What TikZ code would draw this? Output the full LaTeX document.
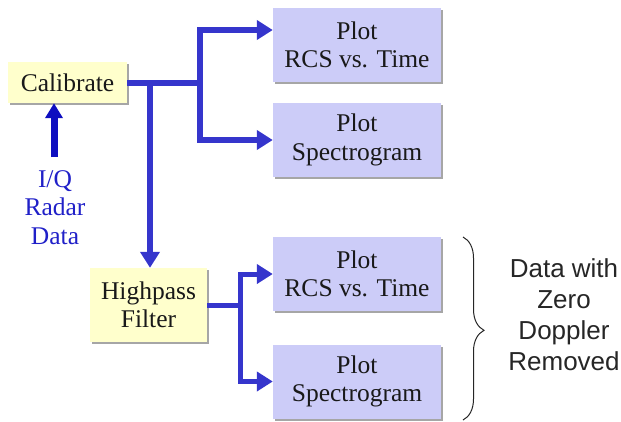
\documentclass[tikz,border=0pt]{standalone}
\usepackage{fontspec}
\setmainfont{Liberation Serif}
\newfontfamily\sansf{Liberation Sans}
\usetikzlibrary{arrows.meta,shadows,decorations.pathreplacing}
\definecolor{flowblue}{HTML}{3535CC}
\definecolor{inblue}{HTML}{0E0EC0}
\definecolor{procfill}{HTML}{FFFFCC}
\definecolor{plotfill}{HTML}{CCCCF8}
\definecolor{txtblue}{HTML}{2020C8}
\begin{document}
\begin{tikzpicture}[x=1pt,y=-1pt,
  every node/.style={font=\fontsize{25.5}{28.5}\selectfont, text=black!90, align=center, inner sep=0pt},
  boxshadow/.style={drop shadow={shadow xshift=2pt, shadow yshift=-2pt, fill=black!35, opacity=1}},
  procbox/.style={rectangle, fill=procfill, boxshadow},
  plotbox/.style={rectangle, fill=plotfill, boxshadow, minimum width=168pt, minimum height=74pt},
  flow/.style={draw=flowblue, line width=6pt, line join=miter},
  tipb/.style={-{Triangle[length=16pt,width=19pt]}},
  tipbb/.style={{Triangle[length=16pt,width=19pt]}-{Triangle[length=16pt,width=19pt]}}
]
\useasboundingbox (0,0) rectangle (621,421);

% processing boxes
\node[procbox, minimum width=119pt, minimum height=41pt] (cal) at (67.5,82.5) {Calibrate};
\node[procbox, minimum width=117pt, minimum height=74pt] (hp) at (148.5,305) {Highpass\\Filter};

% plot boxes
\node[plotbox] (rcsA)  at (357,45)    {Plot\\RCS vs. Time};
\node[plotbox] (specA) at (357,140)   {Plot\\Spectrogram};
\node[plotbox] (rcsB)  at (357,274)   {Plot\\RCS vs. Time};
\node[plotbox] (specB) at (357,381.5) {Plot\\Spectrogram};

% input label
\node[text=txtblue, anchor=north] (iq) at (55,170) {I/Q\\Radar\\Data};

% right-hand note
\node[font=\sansf\fontsize{26}{31}\selectfont, text=black!85] (note) at (564,315) {Data with\\Zero\\Doppler\\Removed};

% junctions
\coordinate (jA) at (200,82.5);
\coordinate (jD) at (150,82.5);
\coordinate (jB) at (240,305);
\coordinate (tA) at ([yshift=15pt]rcsA.west);
\coordinate (iqTop) at (54,157);

% input arrow
\draw[draw=inblue, line width=7pt, -{Triangle[length=15pt,width=17pt]}] (iqTop) -- (iqTop |- cal.south);

% calibrate outputs
\draw[flow] (cal.east) -- (jA);
\draw[flow, tipbb] (tA) -| (jA) |- (specA.west);
\draw[flow, tipb] (jD) -- (hp.north -| jD);

% highpass outputs
\draw[flow, line width=5pt] (hp.east) -- (jB);
\draw[flow, line width=5pt, tipbb] (rcsB.west) -| (jB) |- (specB.west);

% brace grouping the filtered plots
\coordinate (brTop) at (463,237);
\coordinate (brBot) at (463,420);
\draw[black!85, line width=1pt, decorate, decoration={brace, amplitude=21pt, aspect=0.51}] (brTop) -- (brBot);
\end{tikzpicture}
\end{document}
